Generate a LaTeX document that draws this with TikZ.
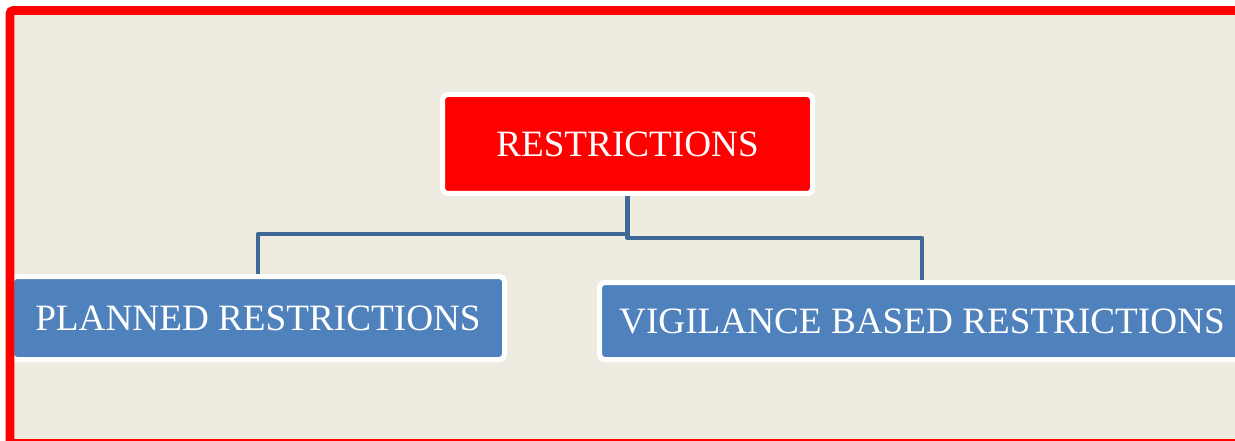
\documentclass[tikz,border=0pt]{standalone}
\usepackage{fontspec}
\setmainfont{Liberation Serif}
\definecolor{paper}{RGB}{238,236,225}
\definecolor{topred}{RGB}{255,0,0}
\definecolor{boxblue}{RGB}{79,129,189}
\definecolor{wireblue}{RGB}{64,104,150}
\pgfdeclarelayer{back}
\pgfdeclarelayer{wires}
\pgfdeclarelayer{front}
\pgfsetlayers{back,wires,main,front}
\tikzset{
  box/.style={rectangle, rounded corners=5pt, draw=white, line width=5pt,
    text=white, inner sep=0pt, font=\fontsize{37.2}{40}\selectfont},
  wire/.style={draw=wireblue, line width=4.6pt, line join=round},
  frameline/.style={draw=topred, line width=8.6pt, rounded corners=3pt}
}
\begin{document}
\begin{tikzpicture}[x=1pt,y=-1pt]
\useasboundingbox (0,0) rectangle (1235,441);

% page, frame fill
\begin{pgfonlayer}{back}
  \fill[white] (0,0) rectangle (1235,441);
  \fill[paper] (10,10.5) rectangle (1260,443.5);
\end{pgfonlayer}

% boxes
\node[box, fill=topred, minimum width=370pt, minimum height=99pt]
  (top) at (627.5,144) {RESTRICTIONS};
\node[box, fill=boxblue, minimum width=493pt, minimum height=83pt]
  (planned) at (258,318) {PLANNED RESTRICTIONS};
\node[box, fill=boxblue, minimum width=645pt, minimum height=77pt]
  (vigil) at (922,321) {VIGILANCE BASED RESTRICTIONS};

% elbow connectors
\begin{pgfonlayer}{wires}
  \draw[wire] (top.south) -- (top.south |- 0,234) -| (planned.north);
  \draw[wire] (top.south) -- (top.south |- 0,238) -| (vigil.north);
\end{pgfonlayer}

% red frame
\begin{pgfonlayer}{front}
  \draw[frameline] (1260,10.5) -- (10,10.5) -- (10,443.5) -- (1260,443.5);
\end{pgfonlayer}
\end{tikzpicture}
\end{document}
